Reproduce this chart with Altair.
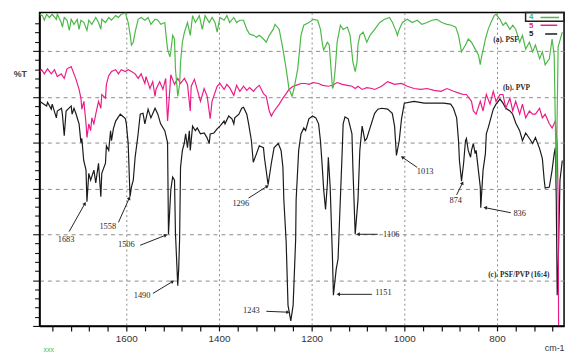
import math
import altair as alt
import pandas as pd

# ---------------- data ----------------
# (a) PSF  - green
psf_wn = [1787, 1781, 1777, 1772, 1766, 1760, 1751, 1749, 1740.5, 1738, 1734, 1728, 1723, 1719, 1713, 1706,
          1702, 1698, 1691.5, 1685, 1681, 1674.5, 1666, 1660, 1655, 1653, 1645, 1638, 1632, 1623, 1617, 1611,
          1602, 1596, 1591.5, 1589, 1585, 1581, 1574.5, 1568, 1560, 1553, 1547, 1538, 1532, 1525.5, 1517, 1515,
          1511, 1506, 1504, 1500, 1496, 1494, 1489, 1485, 1483, 1479, 1474.5, 1468, 1462, 1457, 1451, 1442.5,
          1436, 1430, 1421, 1415, 1408.5, 1404, 1398, 1389, 1383, 1377, 1368, 1362, 1355, 1347, 1340, 1334,
          1325.5, 1319, 1313, 1304, 1298, 1291.5, 1283, 1279, 1270, 1262, 1255, 1249, 1242.5, 1238, 1230, 1223,
          1217, 1206, 1196, 1187, 1181, 1176.5, 1174, 1166, 1162, 1155, 1153, 1149, 1145, 1138, 1132, 1123,
          1117, 1111, 1106, 1102, 1100, 1096, 1089, 1081, 1074, 1064, 1053, 1042.5, 1032, 1025.5, 1017, 1015,
          1011, 1004, 993.5, 983, 972, 962, 951, 940, 930, 919, 908, 898, 889, 883, 876.5, 868,
          862, 855, 847, 840, 836, 834, 825, 819, 813, 806, 802, 793.5, 787, 781, 772, 766,
          759.5, 751, 745, 738, 730, 723, 717, 708, 702, 696, 687, 681, 676.5, 672, 668, 659]
psf_t = [68.0, 67.7, 66.7, 68.0, 67.3, 68.0, 66.9, 68.0, 66.2, 65.2, 67.3, 66.7, 64.5, 66.9, 65.8, 66.9,
         64.7, 66.7, 66.2, 64.5, 66.7, 65.8, 67.3, 66.2, 64.7, 66.9, 66.2, 67.3, 66.7, 67.7, 67.3, 68.0,
         68.3, 66.2, 63.4, 61.3, 61.9, 64.1, 66.9, 67.3, 66.7, 67.3, 65.8, 66.9, 66.7, 65.8, 66.2, 64.1,
         60.4, 58.7, 59.8, 63.4, 62.6, 56.1, 50.1, 52.7, 57.6, 61.9, 64.1, 66.2, 63.4, 67.7, 66.2, 67.7,
         64.7, 67.7, 66.2, 67.3, 66.2, 64.1, 67.3, 66.7, 67.7, 66.2, 67.3, 66.2, 66.7, 66.7, 64.7, 63.7,
         63.4, 63.0, 63.4, 62.6, 61.9, 63.4, 64.7, 65.8, 64.7, 60.4, 56.1, 51.8, 50.1, 51.8, 56.1, 63.4,
         65.6, 66.2, 66.9, 66.7, 64.7, 61.3, 60.2, 61.9, 61.3, 51.8, 52.3, 56.1, 61.9, 65.6, 64.7, 65.2,
         63.4, 57.6, 55.5, 57.6, 61.3, 63.4, 64.1, 61.9, 63.4, 64.7, 66.2, 66.9, 67.3, 66.2, 64.1, 63.4,
         64.7, 66.2, 66.9, 66.2, 66.7, 65.8, 66.2, 66.7, 66.9, 66.2, 65.8, 65.6, 65.2, 63.4, 59.8, 61.3,
         62.6, 61.9, 60.4, 59.1, 57.0, 58.3, 62.6, 64.7, 66.2, 67.7, 68.0, 66.9, 65.6, 66.2, 64.7, 65.6,
         64.7, 61.9, 63.4, 60.4, 61.9, 59.8, 61.3, 58.3, 59.8, 57.0, 58.3, 62.6, 59.1, 31.8, 60.9, 64.1]

# (b) PVP - pink
pvp_wn = [1787, 1783, 1777, 1770, 1762, 1755, 1749, 1740.5, 1734, 1728, 1719, 1713, 1708.5, 1702, 1698, 1696,
          1691.5, 1687, 1685, 1681, 1677, 1674.5, 1670, 1666, 1660, 1655, 1653, 1645, 1643, 1638, 1632, 1623,
          1617, 1611, 1602, 1596, 1589, 1581, 1574.5, 1568, 1560, 1557.5, 1549, 1543, 1538, 1536, 1528, 1521,
          1515, 1511, 1506, 1504, 1496, 1489, 1483, 1474.5, 1468, 1462, 1460, 1453, 1447, 1440, 1432, 1425.5,
          1419, 1415, 1404, 1398, 1389, 1383, 1377, 1368, 1362, 1355, 1347, 1340, 1334, 1325.5, 1319, 1313,
          1304, 1298, 1291.5, 1287, 1281, 1270, 1262, 1255, 1249, 1240, 1234, 1223, 1213, 1206, 1196, 1185,
          1176.5, 1164, 1155, 1145, 1134, 1123, 1113, 1106, 1100, 1091, 1081, 1070, 1064, 1049, 1036, 1021,
          1006, 993.5, 979, 964, 951, 936, 921, 908, 893.5, 879, 872, 866, 855, 851, 845, 836,
          830, 823, 815, 808, 802, 793.5, 787, 781, 772, 766, 759.5, 751, 745, 738, 730, 723,
          717, 708, 702, 696, 687, 681, 674, 670, 668, 667]
pvp_t = [55.5, 55.9, 55.0, 56.1, 55.0, 55.9, 54.4, 55.0, 54.0, 56.1, 56.6, 55.0, 53.8, 51.6, 49.7, 47.3,
         49.0, 44.1, 41.1, 44.1, 42.6, 45.4, 44.1, 46.2, 49.0, 47.5, 50.5, 49.7, 52.7, 54.6, 55.5, 55.9,
         55.0, 55.9, 55.5, 55.9, 55.5, 55.0, 54.0, 55.0, 52.9, 54.4, 51.8, 53.3, 50.1, 51.6, 53.3, 51.6,
         54.0, 44.7, 51.8, 54.8, 52.7, 54.0, 52.9, 54.0, 52.7, 46.9, 52.3, 53.8, 51.6, 49.0, 51.8, 50.1,
         45.2, 49.0, 52.3, 52.9, 51.6, 52.7, 52.0, 50.3, 52.5, 51.2, 52.3, 51.4, 52.0, 51.2, 52.0, 52.5,
         50.7, 50.1, 46.9, 45.8, 46.9, 48.4, 49.7, 50.7, 51.6, 52.3, 52.5, 52.9, 52.9, 52.7, 53.1, 52.9,
         52.5, 52.3, 52.5, 53.1, 52.7, 52.5, 52.3, 51.8, 52.3, 51.6, 52.0, 51.8, 51.6, 52.3, 53.3, 52.7,
         52.9, 52.3, 51.8, 51.6, 51.8, 51.4, 51.2, 51.8, 51.2, 50.7, 50.5, 50.5, 49.0, 46.9, 46.2, 49.0,
         46.9, 50.5, 48.4, 51.2, 49.0, 50.5, 50.5, 47.5, 49.7, 46.9, 49.0, 46.2, 48.4, 45.4, 46.9, 46.2,
         46.2, 47.5, 45.4, 46.2, 44.1, 43.2, 44.7, 39.8, 27.5, 0.2]

# (c) PSF/PVP (16:4) - black
blend_wn = [1787, 1781, 1772, 1770, 1762, 1760, 1751, 1749, 1740, 1738, 1734, 1730, 1719, 1717, 1713, 1709,
            1702, 1698, 1696, 1692, 1687, 1685, 1681, 1677, 1670, 1666, 1660, 1655, 1653, 1645, 1643, 1638,
            1634, 1632, 1628, 1623, 1613, 1606, 1602, 1600, 1596, 1592, 1589, 1585, 1581, 1575, 1570, 1564,
            1560, 1553, 1547, 1538, 1532, 1526, 1517, 1511, 1509, 1504, 1500, 1496, 1494, 1489, 1487, 1485,
            1483, 1479, 1475, 1472, 1468, 1464, 1462, 1457, 1451, 1447, 1440, 1432, 1426, 1421, 1419, 1411,
            1404, 1398, 1389, 1387, 1379, 1372, 1368, 1366, 1357, 1351, 1347, 1340, 1336, 1330, 1326, 1319,
            1313, 1304, 1302, 1294, 1287, 1281, 1272, 1266, 1262, 1260, 1255, 1251, 1245, 1240, 1234.5, 1233.5,
            1228, 1223, 1217, 1213, 1206, 1198, 1191, 1185, 1181, 1177, 1174, 1170, 1166, 1164, 1160, 1155,
            1153, 1147, 1143, 1134, 1132, 1128, 1121, 1113, 1111, 1106, 1100, 1096, 1091, 1085, 1081, 1074,
            1064, 1057, 1049, 1036, 1026, 1021, 1017, 1011, 1006, 1000, 979, 957, 936, 915, 900, 894,
            887, 883, 881, 876.5, 872, 868, 866, 862, 857, 855, 851, 847, 845, 836, 835, 830,
            825, 823, 819, 815, 808, 802, 793.5, 787, 781, 772, 766, 759.5, 751, 745, 738, 730,
            723, 717, 708, 702, 698, 696, 687, 681, 676.5, 674, 672, 670, 668, 664, 659]
blend_t = [49.0, 48.6, 48.0, 48.8, 47.3, 48.4, 45.4, 46.9, 47.5, 46.2, 41.5, 46.9, 48.0, 46.2, 47.5, 46.4,
           44.1, 40.0, 40.9, 36.1, 34.0, 27.1, 33.3, 31.8, 34.0, 31.2, 35.5, 28.2, 33.3, 35.5, 39.3, 38.3,
           42.6, 40.4, 43.0, 44.7, 46.2, 45.6, 45.2, 44.1, 39.8, 28.2, 30.3, 31.8, 36.8, 41.5, 46.2, 46.4,
           44.1, 47.3, 45.4, 47.5, 46.2, 44.1, 42.6, 40.0, 20.0, 29.7, 32.5, 31.8, 20.4, 8.8, 12.4, 18.9,
           34.6, 38.3, 39.8, 41.9, 38.9, 42.6, 38.3, 43.6, 42.6, 43.2, 41.9, 42.1, 41.1, 39.8, 41.9, 42.1,
           43.0, 43.6, 44.7, 44.1, 45.8, 45.2, 44.1, 45.4, 46.2, 47.5, 47.7, 46.2, 44.1, 40.4, 35.7, 37.6,
           39.3, 38.9, 36.8, 30.8, 35.5, 38.9, 39.8, 38.3, 34.6, 27.5, 18.3, 4.5, 1.1, 4.5, 18.9, 27.5,
           38.3, 41.9, 43.2, 42.6, 45.2, 45.8, 45.4, 44.1, 40.4, 34.6, 29.7, 25.4, 31.2, 36.8, 30.3, 14.6,
           6.7, 12.4, 14.6, 38.3, 44.1, 45.6, 45.2, 41.9, 34.6, 20.0, 27.5, 38.3, 43.6, 40.4, 40.9, 43.2,
           46.4, 47.3, 47.5, 47.3, 46.4, 43.6, 37.2, 40.4, 45.2, 48.6, 49.0, 48.6, 48.6, 48.6, 48.4, 47.5,
           45.4, 40.4, 36.1, 31.6, 35.5, 40.4, 40.9, 38.3, 36.8, 38.3, 39.8, 37.6, 38.3, 30.3, 25.8, 34.0,
           37.6, 41.9, 43.2, 44.7, 47.3, 48.4, 49.5, 48.6, 47.5, 46.9, 46.2, 44.3, 42.6, 40.4, 42.1, 40.9,
           39.8, 41.1, 38.7, 36.5, 31.8, 30.1, 30.3, 34.0, 37.6, 38.9, 27.5, 6.7, 12.4, 31.8, 36.1]

# peak annotations
peak_labels = ["1683", "1558", "1506", "1490", "1296", "1243", "1151", "1106", "1013", "874", "836"]
label_wn = [1730, 1640, 1600, 1566, 1353, 1330, 1045, 1028, 955, 889, 751]
label_t = [18.9, 21.7, 17.8, 6.7, 26.9, 3.4, 7.5, 20.0, 33.8, 27.5, 24.7]
arrow_wn_from = [1723.4, 1617.0, 1570.2, 1542.6, 1336.1, 1297.8, 1070.1, 1057.4, 972.3, 887.1, 770.1]
arrow_t_from = [20.6, 22.6, 17.6, 7.1, 27.9, 3.2, 6.9, 20.0, 34.6, 28.6, 24.7]
arrow_wn_to = [1689.4, 1593.6, 1514.9, 1500.0, 1295.7, 1251.0, 1142.5, 1099.9, 1004.2, 874.4, 825.4]
arrow_t_to = [26.7, 27.9, 19.8, 9.7, 30.5, 3.0, 6.9, 20.0, 36.8, 31.2, 25.8]

# curve names
curve_names = ["(a). PSF", "(b). PVP", "(c). PSF/PVP (16:4)"]
curve_name_wn = [808, 787, 819]
curve_name_t = [62.4, 51.8, 11.2]

# legend box entries
legend_labels = ["4", "5", "5"]
legend_text_wn = [726, 726, 726]
legend_text_t = [67.3, 65.5, 63.6]
legend_line_wn1 = [706, 706, 696]
legend_line_wn2 = [666, 670, 670]
legend_line_t = [67.3, 65.6, 63.7]

colors = ["#4cb848", "#ec1c86", "#1a1a1a"]

# ---------------- chart ----------------
W, H = 532, 318
X_DOM = [655.2, 1787.3]
Y_DOM = [0, 68.4]

xs = alt.Scale(domain=X_DOM, reverse=True, nice=False, zero=False)
ys = alt.Scale(domain=Y_DOM, nice=False, zero=False)

x_axis = alt.Axis(
    values=list(range(680, 1781, 40)), format="d",
    labelExpr="datum.value % 200 === 0 ? datum.label : ''",
    grid=True,
    gridOpacity={"condition": {"test": "datum.value % 200 === 0", "value": 1}, "value": 0},
    gridDash=[2, 3], gridColor="#8a8a8a", gridWidth=1,
    tickSize=5, tickColor="#111", tickWidth=1.2,
    domainColor="#000", domainWidth=1.5,
    labelFont="Liberation Sans", labelFontSize=10, labelColor="#333", labelPadding=3,
    title="cm-1", titleX=522, titleY=22, titleAlign="center", titleBaseline="middle",
    titleFont="Liberation Sans", titleFontSize=9, titleFontWeight="normal", titleColor="#333",
)
y_axis = alt.Axis(
    values=list(range(0, 68, 2)), labels=False,
    tickSize={"condition": {"test": "datum.value % 10 === 0", "value": 7}, "value": 5},
    tickColor="#111", tickWidth=1.1,
    grid=True,
    gridOpacity={"condition": {"test": "datum.value % 10 === 0 && datum.value > 0", "value": 1}, "value": 0},
    gridDash=[4, 4], gridColor="#8a8a8a", gridWidth=1,
    domainColor="#000", domainWidth=1.5,
    title="%T", titleAngle=0, titleX=-20, titleY=62, titleAlign="center", titleBaseline="middle",
    titleFont="Liberation Sans", titleFontSize=9, titleFontWeight="bold", titleColor="#444",
)


def X(field):
    return alt.X(field, scale=xs, axis=x_axis)


def Y(field):
    return alt.Y(field, scale=ys, axis=y_axis)


def trace(wn, t, color):
    df = pd.DataFrame({"wn": wn, "t": t, "i": list(range(len(wn)))})
    return alt.Chart(df).mark_line(color=color, strokeWidth=1.2, clip=True).encode(
        x=X("wn:Q"), y=Y("t:Q"), order="i:Q",
    )


black = trace(blend_wn, blend_t, colors[2])
pink = trace(pvp_wn, pvp_t, colors[1])
green = trace(psf_wn, psf_t, colors[0])

# arrows
kx = W / (X_DOM[1] - X_DOM[0])
ky = H / (Y_DOM[1] - Y_DOM[0])
angs = []
for w1, t1, w2, t2 in zip(arrow_wn_from, arrow_t_from, arrow_wn_to, arrow_t_to):
    dx = (w1 - w2) * kx
    dy = -(t2 - t1) * ky
    angs.append(math.degrees(math.atan2(dx, -dy)) % 360)
arrow_df = pd.DataFrame({"w1": arrow_wn_from, "t1": arrow_t_from, "w2": arrow_wn_to,
                         "t2": arrow_t_to, "ang": angs})
arrow_lines = alt.Chart(arrow_df).mark_rule(color="#222", strokeWidth=1).encode(
    x=X("w1:Q"), x2="w2:Q", y=Y("t1:Q"), y2="t2:Q")
arrow_heads = alt.Chart(arrow_df).mark_point(shape="triangle-up", filled=True, size=16,
                                              color="#222", opacity=1).encode(
    x=X("w2:Q"), y=Y("t2:Q"), angle=alt.Angle("ang:Q", scale=None))

lab_df = pd.DataFrame({"w": label_wn, "t": label_t, "s": peak_labels})
peak_text = alt.Chart(lab_df).mark_text(font="Liberation Serif", fontSize=8.5, color="#2a2a2a",
                                         align="center", baseline="middle").encode(
    x=X("w:Q"), y=Y("t:Q"), text="s:N")

name_df = pd.DataFrame({"w": curve_name_wn, "t": curve_name_t, "s": curve_names})
name_text = alt.Chart(name_df).mark_text(font="Liberation Serif", fontSize=7.5, fontWeight="bold",
                                          color="#2a2a2a", align="left", baseline="middle").encode(
    x=X("w:Q"), y=Y("t:Q"), text="s:N")

# legend box
box_df = pd.DataFrame({"w1": [738.2], "w2": [655.2], "t1": [68.4], "t2": [66.5]})
leg_box = alt.Chart(box_df).mark_rect(fill="white", fillOpacity=0, stroke="#222",
                                      strokeWidth=1.5).encode(
    x=X("w1:Q"), x2="w2:Q", y=Y("t1:Q"), y2="t2:Q")
leg_df = pd.DataFrame({"w1": legend_line_wn1, "w2": legend_line_wn2, "t": legend_line_t,
                       "tw": legend_text_wn, "tt": legend_text_t, "s": legend_labels, "c": colors})
leg_lines = alt.Chart(leg_df).mark_rule(strokeWidth=1.5).encode(
    x=X("w1:Q"), x2="w2:Q", y=Y("t:Q"),
    color=alt.Color("c:N", scale=None))
leg_text = alt.Chart(leg_df).mark_text(font="Liberation Sans", fontSize=8, fontWeight="bold",
                                        align="center", baseline="middle").encode(
    x=X("tw:Q"), y=Y("tt:Q"), text="s:N",
    color=alt.Color("c:N", scale=None))

xxx = alt.Chart(pd.DataFrame({"s": ["xxx"]})).mark_text(
    font="Liberation Sans", fontSize=7, color="#4cb848", align="left", baseline="middle").encode(
    x=alt.value(4), y=alt.value(342), text="s:N")

chart = alt.layer(
    black, pink, green, arrow_lines, arrow_heads, peak_text, name_text,
    leg_box, leg_lines, leg_text, xxx
).properties(
    width=W, height=H,
    autosize=alt.AutoSizeParams(type="none"),
    padding={"left": 32, "top": 2, "right": 4, "bottom": 30},
).configure_view(stroke="#000", strokeWidth=1.5)

chart.save("out.html", embed_options={"renderer": "svg", "actions": False})
